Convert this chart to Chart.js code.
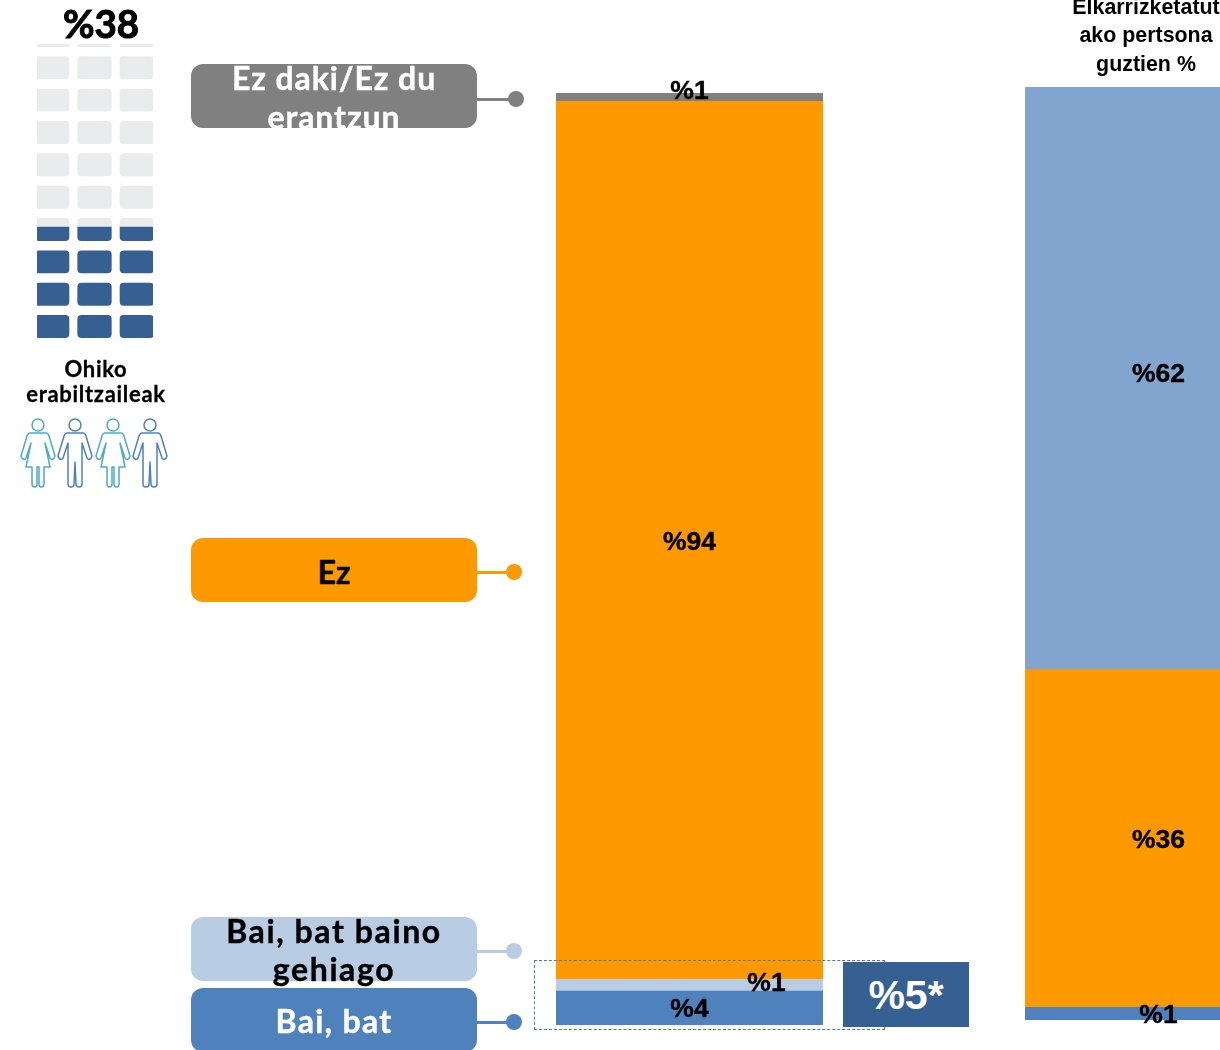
<!DOCTYPE html>
<html>
<head>
<meta charset="utf-8">
<title>Ohiko erabiltzaileak</title>
<script src="https://cdn.jsdelivr.net/npm/chart.js@4"></script>
<style>
html, body { margin: 0; padding: 0; background: #fff; }
#page { position: relative; width: 1220px; height: 1050px; overflow: hidden; font-family: "Liberation Sans", Arial, sans-serif; }
#page > canvas { position: absolute; left: 0; top: 0; }
#tiles-box { position: absolute; left: 37px; top: 44px; width: 116px; height: 294px; overflow: hidden; }
#tiles-box canvas { position: absolute; left: -6px; top: 0; }
.pill { position: absolute; left: 191px; width: 286px; height: 64px; border-radius: 12px; overflow: hidden; text-align: center;
        font-family: Lato, sans-serif; font-weight: 700; font-size: 32px; line-height: 39px; letter-spacing: 0.9px; -webkit-text-stroke: 0.4px currentColor; }
.lead { position: absolute; left: 477px; height: 3px; }
.dot { position: absolute; width: 16px; height: 16px; border-radius: 50%; }
.overflow-text { position: absolute; left: 191px; width: 286px; text-align: center; font-family: Lato, sans-serif; font-weight: 700;
        font-size: 32px; line-height: 38px; letter-spacing: 1.6px; color: #000; -webkit-text-stroke: 0.4px #000; }
#pct38 { position: absolute; left: 41px; width: 120px; top: 0; text-align: center; font-family: Lato, sans-serif; font-weight: 700; font-size: 38.5px; line-height: 46px; color: #000; -webkit-text-stroke: 1px #000; }
#users { position: absolute; left: 6px; width: 180px; top: 356px; text-align: center; font-family: Lato, sans-serif; font-weight: 700; font-size: 22px; line-height: 25px; letter-spacing: 0.7px; color: #000; -webkit-text-stroke: 0.3px #000; }
#total-title { position: absolute; left: 1046px; width: 200px; top: -7px; text-align: center; font-weight: 700; font-size: 21.4px; line-height: 28.4px; color: #000; }
#dash-box { position: absolute; left: 534px; top: 960px; width: 351px; height: 70px; border: 1px dashed #4f78ad; box-sizing: border-box; }
#share-box { position: absolute; left: 843px; top: 962px; width: 126px; height: 65px; background: #366092; color: #fff; text-align: center;
        font-weight: 700; font-size: 41px; line-height: 67px; }
#people { position: absolute; left: 0; top: 418px; }
</style>
</head>
<body>
<div id="page">
  <canvas id="main-bar" width="1220" height="1050"></canvas>
  <canvas id="total-bar" width="1292" height="1050"></canvas>
  <div id="tiles-box"><canvas id="tiles" width="127" height="294"></canvas></div>

  <div id="pct38">%38</div>
  <div id="users">Ohiko<br>erabiltzaileak</div>
  <svg id="people" width="190" height="72" fill="none" stroke-width="1.5" stroke-linejoin="round"></svg>

  <div class="pill" style="top:64px;background:#808080;color:#fff;"><div style="margin-top:-6px;">Ez daki/Ez du<br>erantzun</div></div>
  <div class="pill" style="top:538px;background:#ff9900;color:#000;line-height:67px;letter-spacing:0;">Ez</div>
  <div class="pill" style="top:917px;background:#b8cce4;"></div>
  <div class="pill" style="top:988px;background:#4f81bd;color:#fff;line-height:66px;letter-spacing:1.3px;">Bai, bat</div>
  <div class="overflow-text" style="top:912px;">Bai, bat baino<br>gehiago</div>

  <div class="lead" style="top:98px;width:39px;background:#808080;"></div>
  <div class="dot" style="left:508px;top:91px;background:#808080;"></div>
  <div class="lead" style="top:571px;width:37px;background:#ff9900;"></div>
  <div class="dot" style="left:506px;top:564px;background:#ff9900;"></div>
  <div class="lead" style="top:950px;width:37px;background:#b8cce4;"></div>
  <div class="dot" style="left:506px;top:943px;background:#b8cce4;"></div>
  <div class="lead" style="top:1021px;width:37px;background:#4f81bd;"></div>
  <div class="dot" style="left:506px;top:1014px;background:#4f81bd;"></div>

  <div id="dash-box"></div>
  <div id="share-box">%5*</div>
  <div id="total-title">Elkarrizketatut<br>ako pertsona<br>guztien %</div>
</div>

<script>
// values, bottom segment first
const answerNames = ['Bai, bat', 'Bai, bat baino gehiago', 'Ez', 'Ez daki/Ez du erantzun'];
const mainValues = [3.65, 1.25, 94.2, 0.9];
const totalNames = ['Bai, bat', 'Ez', 'Ez daki/Ez du erantzun'];
const totalValues = [1.35, 36.2, 62.45];

// pictogram rows, % from the bottom
const filledTiles = [[0, 7.8], [11, 18.8], [22, 29.8], [33, 37.8]];
const emptyTiles = [[37.8, 40.8], [44, 51.8], [55, 62.8], [66, 73.8], [77, 84.8], [88, 95.8], [99, 100]];
const tileColumns = ['a', 'b', 'c'];

const BLUE = '#4f81bd';
const ORANGE = '#ff9900';
const LIGHT_BLUE = '#b8cce4';
const GREY = '#808080';
const SKY = '#82a5cf';

// draws the %NN label of each segment; the reference has a few of them pushed off centre
const segmentLabels = {
    id: 'segmentLabels',
    afterDatasetsDraw(chart, args, opts) {
        const ctx = chart.ctx;
        ctx.save();
        ctx.font = '700 26.5px "Liberation Sans", Arial, sans-serif';
        ctx.fillStyle = '#000';
        ctx.strokeStyle = '#000';
        ctx.lineWidth = 0.4;
        ctx.textAlign = 'center';
        ctx.textBaseline = 'middle';
        chart.data.datasets.forEach((ds, i) => {
            const bar = chart.getDatasetMeta(i).data[0];
            const nudge = opts.nudges[i] || [0, 0];
            const middle = (bar.y + bar.base) / 2 + 2;
            const text = '%' + Math.round(ds.data[0]);
            ctx.fillText(text, bar.x + nudge[0], middle + nudge[1]);
            ctx.strokeText(text, bar.x + nudge[0], middle + nudge[1]);
        });
        ctx.restore();
    }
};

function drawColumn(id, names, values, colors, nudges, padding) {
    new Chart(document.getElementById(id), {
        type: 'bar',
        data: {
            labels: [''],
            datasets: values.map((v, i) => ({
                label: names[i],
                data: [v],
                backgroundColor: colors[i],
                borderWidth: 0,
                barPercentage: 1,
                categoryPercentage: 1
            }))
        },
        options: {
            responsive: false,
            animation: false,
            layout: { padding: padding },
            plugins: {
                legend: { display: false },
                tooltip: { enabled: false },
                segmentLabels: { nudges: nudges }
            },
            scales: {
                x: { display: false, stacked: true },
                y: { display: false, stacked: true, min: 0, max: 100 }
            }
        },
        plugins: [segmentLabels]
    });
}

drawColumn('main-bar', answerNames, mainValues, [BLUE, LIGHT_BLUE, ORANGE, GREY],
    [[0, 0], [77, -3], [0, 0], [0, -8]],
    { left: 556, right: 397, top: 93, bottom: 25 });

drawColumn('total-bar', totalNames, totalValues, [BLUE, ORANGE, SKY],
    [[0, 0], [0, 0], [0, -6]],
    { left: 1025, right: 0, top: 87, bottom: 30 });

// pictogram: floating bars, one dataset per row of tiles
function tileRow(range, color, radius) {
    return {
        data: tileColumns.map(() => range),
        backgroundColor: color,
        borderWidth: 0,
        borderSkipped: false,
        borderRadius: radius,
        barPercentage: 0.81,
        categoryPercentage: 1
    };
}

const roundAll = 4;
const roundBottom = { topLeft: 0, topRight: 0, bottomLeft: 4, bottomRight: 4 };
const roundTop = { topLeft: 4, topRight: 4, bottomLeft: 0, bottomRight: 0 };

new Chart(document.getElementById('tiles'), {
    type: 'bar',
    data: {
        labels: tileColumns,
        datasets: [
            ...filledTiles.map((r, i) => tileRow(r, '#366092', i === filledTiles.length - 1 ? roundBottom : roundAll)),
            ...emptyTiles.map((r, i) => tileRow(r, '#e9ecec', i === 0 ? roundTop : i === emptyTiles.length - 1 ? roundBottom : roundAll))
        ]
    },
    options: {
        responsive: false,
        animation: false,
        grouped: false,
        plugins: { legend: { display: false }, tooltip: { enabled: false } },
        scales: {
            x: { display: false },
            y: { display: false, min: 0, max: 100 }
        }
    }
});

// little people under the pictogram
const womanPath = 'M-3 15 L-8 15 Q-10 15 -11 18 L-17 38 Q-17 40 -15 41 Q-13 42 -12 40 L-7 25 L-12 49 L-6 49 L-6 66 Q-6 69 -3.5 69 Q-1 69 -1 66 L-1 49 L1 49 L1 66 Q1 69 3.5 69 Q6 69 6 66 L6 49 L12 49 L7 25 L12 40 Q13 42 15 41 Q17 40 17 38 L11 18 Q10 15 8 15 L3 15 Z';
const manPath = 'M-3 15 L-8 15 Q-10 15 -11 18 L-17 38 Q-17 40 -15 41 Q-13 42 -12 40 L-7 25 L-7 66 Q-7 69 -4 69 Q-1 69 -1 66 L0 44 L1 66 Q1 69 4 69 Q7 69 7 66 L7 25 L12 40 Q13 42 15 41 Q17 40 17 38 L11 18 Q10 15 8 15 L3 15 Z';
const people = [[38, womanPath, '#4bacc6'], [75, manPath, BLUE], [113, womanPath, '#4bacc6'], [150, manPath, BLUE]];
document.getElementById('people').innerHTML = people.map(p =>
    `<g transform="translate(${p[0]} 0)" stroke="${p[2]}"><circle cx="0" cy="7" r="6"></circle><path d="${p[1]}"></path></g>`
).join('');
</script>
</body>
</html>
